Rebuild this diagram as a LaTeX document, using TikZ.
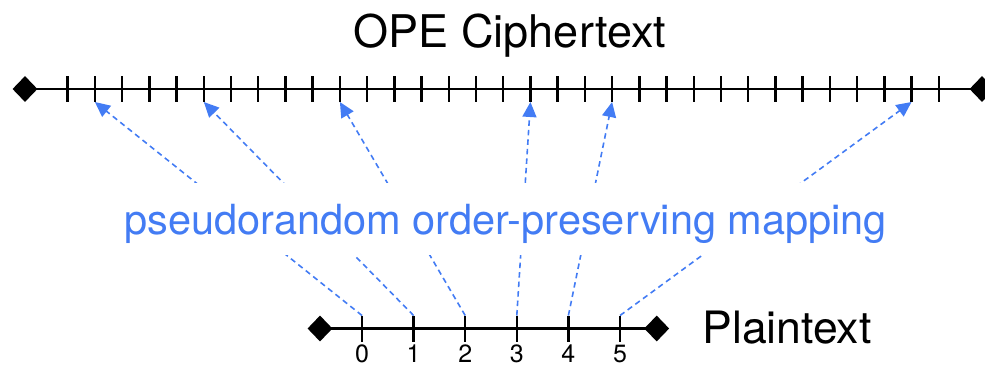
\documentclass[tikz,border=0pt]{standalone}
\usepackage{fontspec}
\setmainfont{TeX Gyre Heros}
\usetikzlibrary{shapes.geometric,arrows.meta,calc}
\definecolor{mapblue}{HTML}{437CF4}
\begin{document}
\begin{tikzpicture}[x=1pt,y=-1pt,
  axis/.style={line width=2.5pt},
  tickmark/.style={line width=2.5pt},
  endmark/.style={diamond, fill=black, inner sep=0pt, minimum width=25pt, minimum height=26pt},
  mapline/.style={mapblue, line width=1.6pt, dash pattern=on 5.5pt off 4pt,
    -{Triangle[length=15pt,width=14pt]}},
  digit/.style={anchor=base, inner sep=0pt, font=\fontsize{25}{28}\selectfont},
]
\useasboundingbox (0,0) rectangle (985,368);

% title
\node[anchor=base, inner sep=0pt, font=\fontsize{45}{54}\selectfont] (title) at (510,47.7) {OPE Ciphertext};

% ciphertext axis
\node[endmark] (tl) at (25,89) {};
\node[endmark] (tr) at (982,89) {};
\draw[axis] (tl.center) -- (tr.center);
\foreach \k in {0,...,32} {
  \coordinate (c\k) at ({67.7+27.22*\k},89);
  \coordinate (ct\k) at ({67.7+27.22*\k},102);
  \draw[tickmark] ($(c\k)+(0,-13)$) -- (ct\k);
}

% plaintext axis
\node[endmark] (bl) at (320,328.5) {};
\node[endmark] (br) at (656.7,328.5) {};
\draw[axis] (bl.center) -- (br.center);
\foreach \i in {0,...,5} {
  \coordinate (p\i) at ({362+51.6*\i},328.5);
  \coordinate (pt\i) at ({362+51.6*\i},315.5);
  \draw[tickmark] (pt\i) -- ($(p\i)+(0,13)$);
  \node[digit] (d\i) at ($(p\i)+(0,33.5)$) {\i};
}
\node[anchor=base, inner sep=0pt, font=\fontsize{44.6}{54}\selectfont] (plain) at (787,343.3) {Plaintext};

% mapping arrows
\foreach \i/\k in {0/1,1/5,2/10,3/17,4/20,5/31}
  \draw[mapline] (pt\i) -- (ct\k);

% label over the arrows
\node[anchor=base, fill=white, inner xsep=4pt, inner ysep=0pt, text height=51pt, text depth=21pt,
  text=mapblue, font=\fontsize{41.5}{50}\selectfont] (map) at (505.8,234.3)
  {pseudorandom order-preserving mapping};
\end{tikzpicture}
\end{document}
